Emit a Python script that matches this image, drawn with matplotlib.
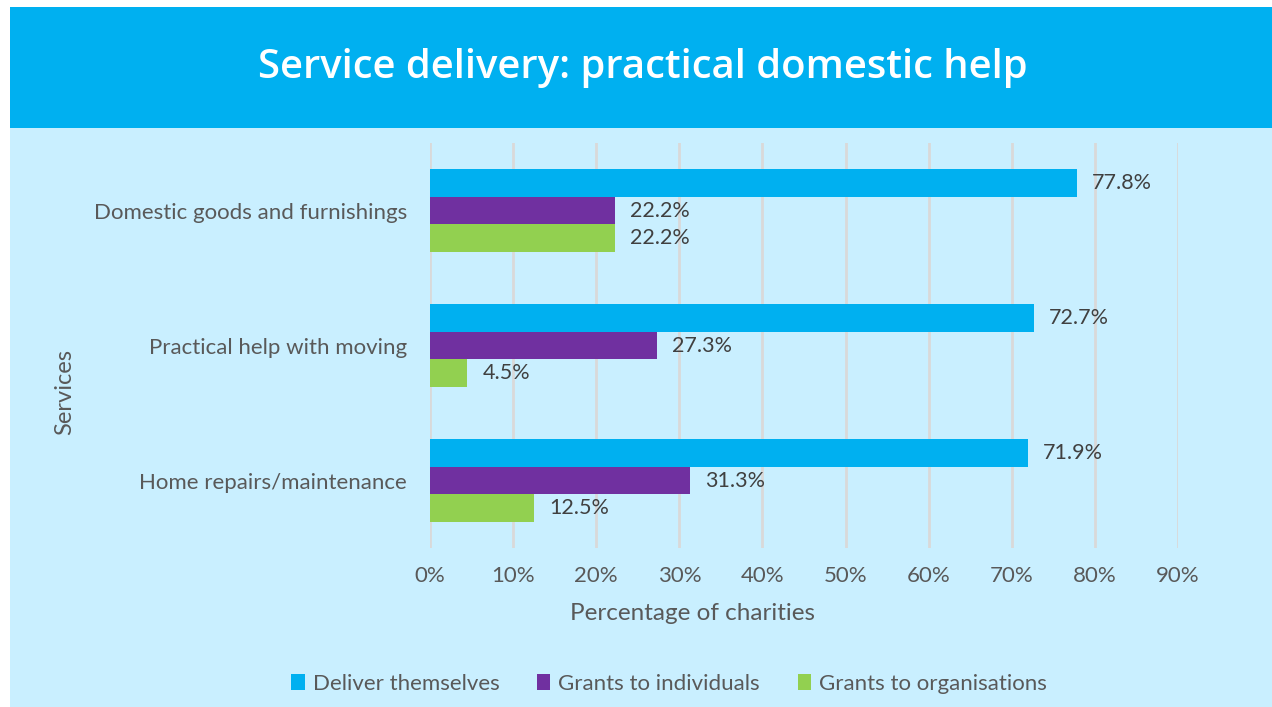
import matplotlib.pyplot as plt
import numpy as np
from matplotlib.patches import Rectangle

#### Data
services = ['Domestic goods and furnishings', 'Practical help with moving', 'Home repairs/maintenance']
deliver = [77.8, 72.7, 71.9]
individuals = [22.2, 27.3, 31.3]
organisations = [22.2, 4.5, 12.5]
series_names = ['Deliver themselves', 'Grants to individuals', 'Grants to organisations']
colours = ['#00B0F0', '#7030A0', '#92D050']
xticks = [0, 10, 20, 30, 40, 50, 60, 70, 80, 90]

text_col = '#595959'
bg = '#C9EFFF'
plt.rcParams['font.family'] = ['Lato', 'DejaVu Sans']

W, H = 1272, 707
fig = plt.figure(figsize=(W/100, H/100), dpi=100)
fig.patch.set_facecolor('white')

# background panels
fig.patches.append(Rectangle((10/W, 0), 1-10/W, (H-128)/H, transform=fig.transFigure,
                             facecolor=bg, edgecolor='none', zorder=-2))
fig.patches.append(Rectangle((10/W, (H-128)/H), 1-10/W, 121/H, transform=fig.transFigure,
                             facecolor='#00B0F0', edgecolor='none', zorder=-2))
fig.text(643/W, 1-68/H, 'Service delivery: practical domestic help', color='white',
         fontsize=28.8, fontweight='semibold', ha='center', va='center',
         family=['Open Sans', 'DejaVu Sans'])

ax = fig.add_axes([430/W, 1-548/H, (1178-430)/W, (548-143)/H])
ax.set_facecolor('none')

y = np.arange(len(services))
h = 0.207
all_series = [deliver, individuals, organisations]
for i, vals in enumerate(all_series):
    pos = y + (i-1)*h
    ax.barh(pos, vals, height=h, color=colours[i], label=series_names[i], zorder=3)
    for p, v in zip(pos, vals):
        ax.annotate(f'{v}%', (v, p), xytext=(15, 0), textcoords='offset pixels',
                    va='center', ha='left', fontsize=15.5, color='#404040')

ax.set_xlim(0, 90)
ax.set_ylim(2.5, -0.5)
ax.set_xticks(xticks)
ax.set_xticklabels([f'{t}%' for t in xticks])
ax.set_yticks(y)
ax.set_yticklabels(services)
ax.tick_params(axis='both', length=0, labelsize=16, colors=text_col)
ax.tick_params(axis='y', pad=16.5)
ax.tick_params(axis='x', pad=13)
for s in ax.spines.values():
    s.set_visible(False)
ax.grid(axis='x', color='#D9D9D9', linewidth=2, zorder=0)
ax.set_axisbelow(True)

fig.text(692/W, 1-613/H, 'Percentage of charities', fontsize=17.5, color=text_col,
         ha='center', va='center')
fig.text(65/W, 1-392/H, 'Services', fontsize=17, color=text_col, rotation=90,
         ha='center', va='center')

handles, labels = ax.get_legend_handles_labels()
fig.legend(handles, labels, loc='center', bbox_to_anchor=(669/W, 1-684/H), ncol=3,
           frameon=False, fontsize=16, labelcolor=text_col, handlelength=0.6,
           handleheight=0.7, handletextpad=0.35, columnspacing=1.7)

fig.savefig('out.png', dpi=100)
